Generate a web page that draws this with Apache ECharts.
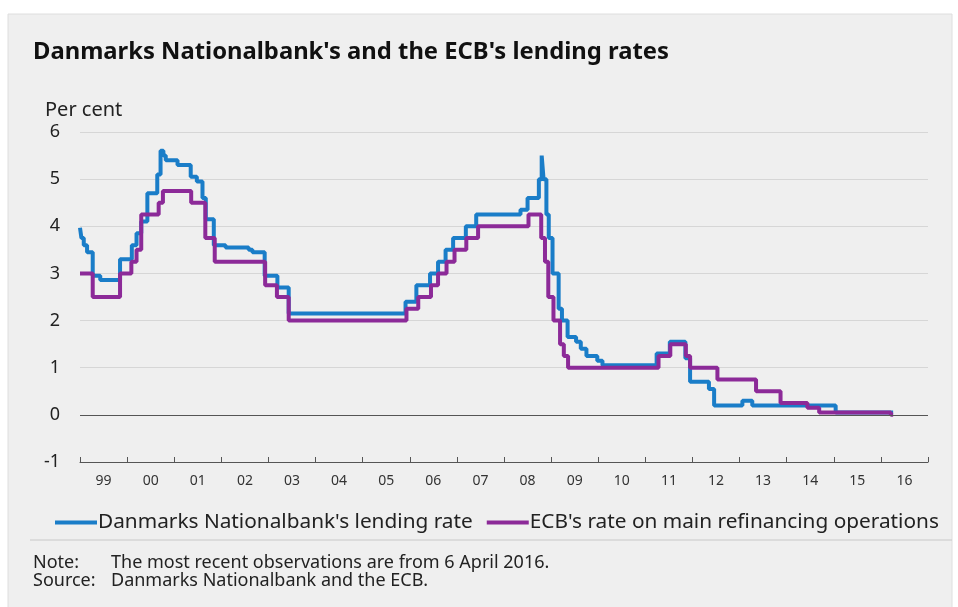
<!DOCTYPE html>
<html>
<head>
<meta charset="utf-8">
<script src="https://cdn.jsdelivr.net/npm/echarts@6/dist/echarts.min.js"></script>
<style>
html,body{margin:0;padding:0;background:#ffffff;}
#chart{width:958px;height:607px;}
</style>
</head>
<body>
<div id="chart"></div>
<script>
// Year labels (category axis, one per year)
var yearLabels = ['99','00','01','02','03','04','05','06','07','08','09','10','11','12','13','14','15','16'];
var yTicks = [-1, 0, 1, 2, 3, 4, 5, 6];

// Danmarks Nationalbank's lending rate: change dates (decimal years) and new rate
var dnDates = [1999.00,1999.03,1999.08,1999.15,1999.27,1999.43,1999.85,2000.10,2000.20,2000.30,2000.43,2000.64,2000.71,2000.77,2000.82,2001.07,2001.35,2001.48,2001.60,2001.67,2001.84,2002.09,2002.58,2002.66,2002.92,2003.19,2003.43,2005.91,2006.14,2006.43,2006.60,2006.76,2006.92,2007.19,2007.41,2008.35,2008.50,2008.74,2008.80,2008.84,2008.90,2008.95,2009.03,2009.16,2009.23,2009.35,2009.53,2009.63,2009.75,2009.98,2010.09,2011.24,2011.52,2011.85,2011.95,2012.35,2012.46,2013.06,2013.27,2015.04,2016.26];
var dnRates = [3.97,3.75,3.60,3.45,2.95,2.86,3.30,3.60,3.85,4.10,4.70,5.10,5.60,5.50,5.40,5.30,5.05,4.95,4.60,4.15,3.60,3.55,3.50,3.45,2.95,2.70,2.15,2.40,2.75,3.00,3.25,3.50,3.75,4.00,4.25,4.35,4.60,5.00,5.50,5.00,4.25,3.75,3.00,2.25,2.00,1.65,1.55,1.40,1.25,1.15,1.05,1.30,1.55,1.20,0.70,0.55,0.20,0.30,0.20,0.05,0.05];

// ECB's rate on main refinancing operations
var ecbDates = [1999.00,1999.27,1999.85,2000.09,2000.20,2000.30,2000.67,2000.76,2001.36,2001.66,2001.86,2002.93,2003.18,2003.43,2005.93,2006.18,2006.45,2006.60,2006.78,2006.95,2007.20,2007.45,2008.52,2008.79,2008.87,2008.94,2009.05,2009.19,2009.27,2009.36,2011.28,2011.53,2011.86,2011.95,2012.53,2013.35,2013.87,2014.44,2014.69,2016.21,2016.26];
var ecbRates = [3.00,2.50,3.00,3.25,3.50,4.25,4.50,4.75,4.50,3.75,3.25,2.75,2.50,2.00,2.25,2.50,2.75,3.00,3.25,3.50,3.75,4.00,4.25,3.75,3.25,2.50,2.00,1.50,1.25,1.00,1.25,1.50,1.25,1.00,0.75,0.50,0.25,0.15,0.05,0.00,0.00];

function pairs(xs, ys){ return xs.map(function(x,i){ return [x, ys[i]]; }); }

var FONT = 'Noto Sans';
var chart = echarts.init(document.getElementById('chart'), null, {renderer:'canvas'});
chart.setOption({
  backgroundColor: '#ffffff',
  animation: false,
  textStyle: {fontFamily: FONT},
  graphic: [
    {type:'rect', z:-10, shape:{x:8, y:14, width:944, height:600}, style:{fill:'#efefef', stroke:'#dedede', lineWidth:1}},
    {type:'text', left:33, top:40, style:{text:"Danmarks Nationalbank's and the ECB's lending rates", font:'bold 23.8px "Noto Sans"', fill:'#111'}},
    {type:'text', left:45, top:100, style:{text:'Per cent', font:'20px "Noto Sans"', fill:'#222'}},
    {type:'line', shape:{x1:30, y1:540, x2:952, y2:540}, style:{stroke:'#c8c8c8', lineWidth:1}},
    {type:'text', left:33, top:554, style:{text:'Note:', font:'18px "Noto Sans"', fill:'#222'}},
    {type:'text', left:111, top:554, style:{text:'The most recent observations are from 6 April 2016.', font:'18px "Noto Sans"', fill:'#222'}},
    {type:'text', left:33, top:572, style:{text:'Source:', font:'18px "Noto Sans"', fill:'#222'}},
    {type:'text', left:111, top:572, style:{text:'Danmarks Nationalbank and the ECB.', font:'18px "Noto Sans"', fill:'#222'}}
  ],
  legend: {
    left: 55, top: 512, padding: 0,
    icon: 'rect', itemWidth: 42, itemHeight: 4, itemGap: 14,
    textStyle: {fontSize: 20.8, color:'#222', fontFamily: FONT, padding:[0,0,0,-4]},
    data: ["Danmarks Nationalbank's lending rate", "ECB's rate on main refinancing operations"]
  },
  grid: {left: 80, right: 30, top: 132, bottom: 145},
  xAxis: [
    {type:'category', data: yearLabels, boundaryGap: true, position:'bottom',
     axisLine:{show:true, onZero:false, lineStyle:{color:'#555', width:1}},
     axisTick:{show:true, inside:true, length:5, alignWithLabel:false, lineStyle:{color:'#555'}},
     axisLabel:{fontSize:14, color:'#333', margin:12},
     splitLine:{show:false}},
    {type:'value', min:1999, max:2017, show:false, splitLine:{show:false}}
  ],
  yAxis: {
    type:'value', min:-1, max:6, interval:1,
    axisLine:{show:false}, axisTick:{show:false},
    axisLabel:{fontSize:18, color:'#222', margin:20},
    splitLine:{show:true, lineStyle:{color:'#d6d6d6', width:1}}
  },
  series: [
    {name:"Danmarks Nationalbank's lending rate", type:'line', xAxisIndex:1, step:'end', showSymbol:false, symbol:'none',
     data: pairs(dnDates, dnRates), lineStyle:{color:'#1a7dc8', width:4}, itemStyle:{color:'#1a7dc8'},
     markLine:{silent:true, symbol:'none', label:{show:false}, lineStyle:{color:'#555', width:1, type:'solid'}, data:[{yAxis:0}]}},
    {name:"ECB's rate on main refinancing operations", type:'line', xAxisIndex:1, step:'end', showSymbol:false, symbol:'none',
     data: pairs(ecbDates, ecbRates), lineStyle:{color:'#8c2a98', width:4}, itemStyle:{color:'#8c2a98'}}
  ]
});
</script>
</body>
</html>
